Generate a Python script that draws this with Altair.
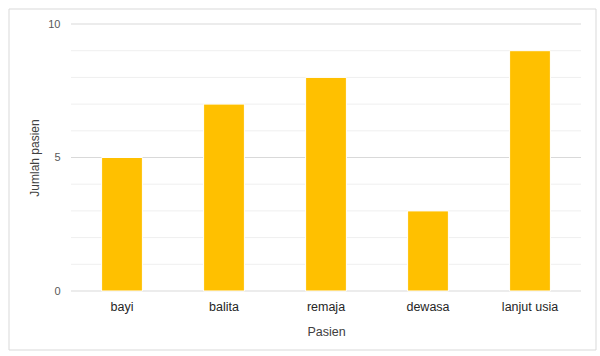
import altair as alt
import pandas as pd

categories = ["bayi", "balita", "remaja", "dewasa", "lanjut usia"]
values = [5, 7, 8, 3, 9]
major_grid = [0, 5, 10]
minor_grid = [1, 2, 3, 4, 6, 7, 8, 9]

df = pd.DataFrame({"Pasien": categories, "Jumlah": values})
gmaj = pd.DataFrame({"Jumlah": major_grid})
gmin = pd.DataFrame({"Jumlah": minor_grid})

FONT = "Liberation Sans"
yscale = alt.Scale(domain=[0, 10], nice=False)
yaxis = alt.Axis(
    title="Jumlah pasien", values=major_grid, ticks=False, domain=False, grid=False,
    labelFont=FONT, labelFontSize=11, labelColor="#595959", labelPadding=11,
    titleFont=FONT, titleFontSize=12, titleColor="#404040", titleFontWeight="normal",
    titlePadding=6,
)
yenc = alt.Y("Jumlah:Q", scale=yscale, axis=yaxis)

border = alt.Chart(pd.DataFrame({"a": [0]})).mark_rect(
    fill=None, fillOpacity=0, stroke="#d9d9d9", strokeWidth=1
).encode(
    x=alt.value(-62), x2=alt.value(525), y=alt.value(-15), y2=alt.value(326)
)

minor = alt.Chart(gmin).mark_rule(color="#efefef", strokeWidth=1).encode(y=yenc)
major = alt.Chart(gmaj).mark_rule(color="#d9d9d9", strokeWidth=1).encode(y=yenc)

bars = alt.Chart(df).mark_bar(color="#FFC000", stroke="white", strokeWidth=1).encode(
    x=alt.X(
        "Pasien:N",
        sort=categories,
        scale=alt.Scale(paddingInner=0.6, paddingOuter=0.3),
        axis=alt.Axis(
            title="Pasien", labelAngle=0, ticks=False, domain=False, grid=False,
            labelFont=FONT, labelFontSize=12.5, labelColor="#262626", labelPadding=9,
            titleFont=FONT, titleFontSize=12.5, titleColor="#404040", titleFontWeight="normal",
            titlePadding=13,
        ),
    ),
    y=yenc,
)

chart = alt.layer(minor, major, bars, border).properties(
    width=510, height=267,
    background="white",
    autosize=alt.AutoSizeParams(type="none"),
    padding={"left": 71, "top": 24, "right": 19, "bottom": 65},
).configure_view(strokeWidth=0)

chart.save("out.html", embed_options={"renderer": "svg", "actions": False})
